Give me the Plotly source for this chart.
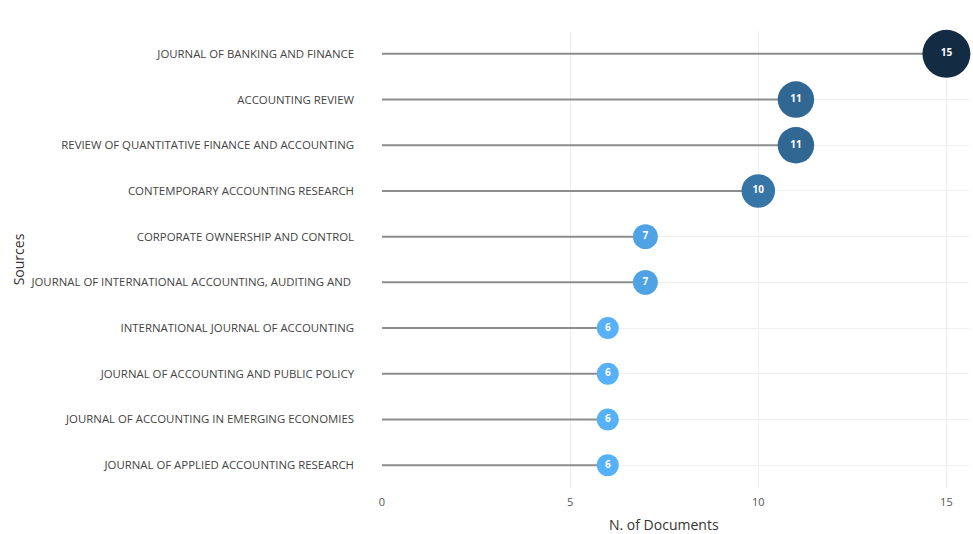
import plotly.graph_objects as go

sources = [
    "JOURNAL OF BANKING AND FINANCE",
    "ACCOUNTING REVIEW",
    "REVIEW OF QUANTITATIVE FINANCE AND ACCOUNTING",
    "CONTEMPORARY ACCOUNTING RESEARCH",
    "CORPORATE OWNERSHIP AND CONTROL",
    "JOURNAL OF INTERNATIONAL ACCOUNTING, AUDITING AND ",
    "INTERNATIONAL JOURNAL OF ACCOUNTING",
    "JOURNAL OF ACCOUNTING AND PUBLIC POLICY",
    "JOURNAL OF ACCOUNTING IN EMERGING ECONOMIES",
    "JOURNAL OF APPLIED ACCOUNTING RESEARCH",
]
documents = [15, 11, 11, 10, 7, 7, 6, 6, 6, 6]
x_ticks = [0, 5, 10, 15]
x_title = "N. of Documents"
y_title = "Sources"

vmin, vmax = min(documents), max(documents)
sizes = [22 + (v - vmin) * (26 / (vmax - vmin)) for v in documents]

lx, ly = [], []
for s, v in zip(sources, documents):
    lx += [0, v, None]
    ly += [s, s, None]

fig = go.Figure()
fig.add_trace(go.Scatter(
    x=lx, y=ly, mode="lines",
    line=dict(color="#8c8c8c", width=2),
    hoverinfo="skip", showlegend=False,
))
fig.add_trace(go.Scatter(
    x=documents, y=sources, mode="markers+text",
    text=[str(v) for v in documents],
    textposition="middle center",
    textfont=dict(color="white", size=10, family="Open Sans", weight="bold"),
    marker=dict(
        size=sizes, color=documents, cmin=vmin, cmax=vmax,
        colorscale=[[0, "#56B1F7"], [1, "#132B43"]],
        line=dict(width=0), opacity=1,
    ),
    cliponaxis=False,
    showlegend=False,
))

fig.add_annotation(
    x=(min(x_ticks) + max(x_ticks)) / 2, xref="x",
    y=0, yref="paper", yanchor="middle", yshift=-36,
    text=x_title, showarrow=False,
    font=dict(size=14, color="#333333", family="Open Sans"),
)

fig.update_layout(
    template="none",
    width=973, height=534,
    margin=dict(l=382, r=4, t=31, b=46),
    paper_bgcolor="white", plot_bgcolor="white",
    font=dict(family="Open Sans", color="#444444"),
    xaxis=dict(
        range=[0, 15.6], tickvals=x_ticks, showgrid=True,
        gridcolor="#efefef", gridwidth=1, zeroline=False,
        tickfont=dict(size=11, color="#555555"),
        ticklabelstandoff=6,
        ticks="", showline=False, automargin=False,
    ),
    yaxis=dict(
        categoryorder="array", categoryarray=sources[::-1],
        range=[-0.5, len(sources) - 0.5],
        showgrid=True, gridcolor="#efefef", gridwidth=1,
        tickfont=dict(size=11.4, color="#444444"),
        ticklabelstandoff=27,
        title=dict(text=y_title, font=dict(size=14, color="#333333")),
        ticks="", showline=False, zeroline=False, automargin=False,
    ),
)
fig.write_html("out.html", config={"displayModeBar": False},
               post_script="document.body.style.margin='0';")
